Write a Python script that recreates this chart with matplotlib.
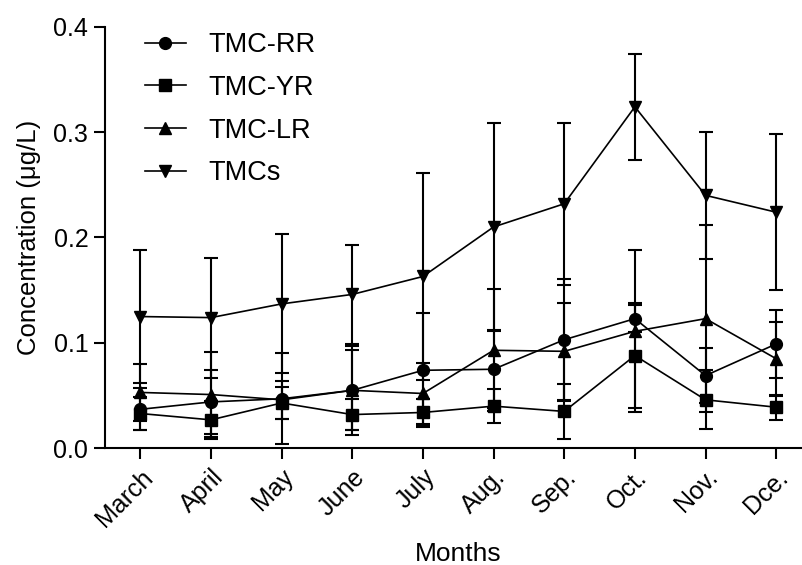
import matplotlib
matplotlib.use('Agg')
import matplotlib.pyplot as plt
import numpy as np

plt.rcParams['font.family'] = ['Liberation Sans', 'DejaVu Sans']

# values (mean and SD, ug/L)
months = ['March', 'April', 'May', 'June', 'July', 'Aug.', 'Sep.', 'Oct.', 'Nov.', 'Dce.']
rr_mean = [0.037, 0.044, 0.047, 0.055, 0.074, 0.075, 0.103, 0.123, 0.069, 0.099]
rr_sd = [0.020, 0.030, 0.043, 0.038, 0.054, 0.037, 0.058, 0.013, 0.026, 0.032]
yr_mean = [0.033, 0.027, 0.043, 0.032, 0.034, 0.040, 0.035, 0.088, 0.046, 0.039]
yr_sd = [0.016, 0.018, 0.015, 0.015, 0.013, 0.016, 0.026, 0.050, 0.028, 0.012]
lr_mean = [0.053, 0.051, 0.046, 0.055, 0.052, 0.093, 0.092, 0.111, 0.123, 0.085]
lr_sd = [0.027, 0.040, 0.018, 0.042, 0.029, 0.058, 0.046, 0.077, 0.089, 0.035]
tmcs_mean = [0.125, 0.124, 0.137, 0.146, 0.163, 0.210, 0.232, 0.324, 0.240, 0.224]
tmcs_sd = [0.063, 0.057, 0.066, 0.047, 0.098, 0.099, 0.077, 0.050, 0.060, 0.074]

series = [
    ('TMC-RR', rr_mean, rr_sd, 'o', 8.5),
    ('TMC-YR', yr_mean, yr_sd, 's', 8),
    ('TMC-LR', lr_mean, lr_sd, '^', 9),
    ('TMCs', tmcs_mean, tmcs_sd, 'v', 9),
]

fig = plt.figure(figsize=(8.02, 5.65), dpi=100)
ax = fig.add_axes([105 / 802, (565 - 448.3) / 565, 706.5 / 802, 421.6 / 565])

x = np.arange(len(months))
handles = []
for name, m, sd, mk, ms in series:
    h = ax.errorbar(x, m, yerr=sd, color='black', marker=mk, markersize=ms,
                    linewidth=1.2, elinewidth=1.5, capsize=5, capthick=1.5,
                    label=name, clip_on=False)
    # legend shows only line + marker, no error bar
    handles.append(h.lines[0])

ax.set_xlim(-0.5, 9.5)
ax.set_ylim(0, 0.4)
ax.set_yticks([0.0, 0.1, 0.2, 0.3, 0.4])
ax.set_yticklabels(['0.0', '0.1', '0.2', '0.3', '0.4'])
ax.set_xticks(x)
ax.set_xticklabels(months, rotation=45, ha='right', va='top', rotation_mode='anchor')

for s in ['top', 'right']:
    ax.spines[s].set_visible(False)
for s in ['left', 'bottom']:
    ax.spines[s].set_linewidth(1.5)
ax.tick_params(axis='both', direction='out', length=8, width=1.5, labelsize=18, pad=4)

ax.set_xlabel('Months', fontsize=19, labelpad=8)
ax.set_ylabel('Concentration (\u03bcg/L)', fontsize=18.5, labelpad=9)

leg = ax.legend(handles=handles, labels=[s[0] for s in series], loc='upper left',
                frameon=False, bbox_to_anchor=(145 / 802, 1 - 32 / 565),
                bbox_transform=fig.transFigure,
                fontsize=19.5, handlelength=1.5, handletextpad=0.85,
                labelspacing=0.62, borderpad=0, borderaxespad=0)

fig.savefig('out.png', dpi=100)
